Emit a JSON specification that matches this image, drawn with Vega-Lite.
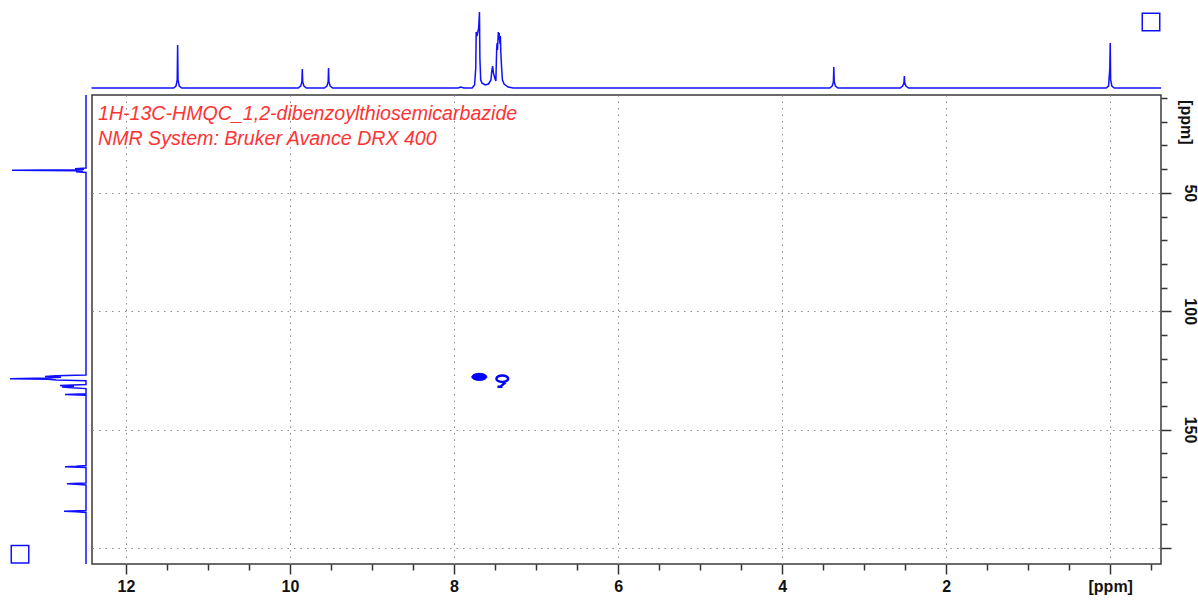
{
  "$schema": "https://vega.github.io/schema/vega-lite/v6.json",
  "background": "white",
  "padding": {"left": 5, "top": 5, "right": 0, "bottom": 0},
  "config": {
    "view": {"stroke": null},
    "axis": {
      "labelFont": "Liberation Sans",
      "labelFontWeight": "bold",
      "labelFontSize": 16,
      "labelColor": "#111111",
      "tickColor": "#333333",
      "tickWidth": 1.5,
      "domain": false,
      "gridColor": "#8c8c8c",
      "gridDash": [1.5, 5],
      "gridWidth": 1,
      "labelOverlap": false,
      "labelFlush": false
    }
  },
  "datasets": {
    "h1": [
      {"ppm": 12.42, "i": 0},
      {"ppm": 11.42, "i": 0}, {"ppm": 11.39, "i": 2}, {"ppm": 11.375, "i": 8}, {"ppm": 11.37, "i": 43}, {"ppm": 11.365, "i": 8}, {"ppm": 11.35, "i": 2}, {"ppm": 11.32, "i": 0},
      {"ppm": 9.9, "i": 0}, {"ppm": 9.87, "i": 2}, {"ppm": 9.855, "i": 6}, {"ppm": 9.85, "i": 19}, {"ppm": 9.845, "i": 6}, {"ppm": 9.83, "i": 2}, {"ppm": 9.8, "i": 0},
      {"ppm": 9.58, "i": 0}, {"ppm": 9.55, "i": 2}, {"ppm": 9.535, "i": 6}, {"ppm": 9.53, "i": 20}, {"ppm": 9.525, "i": 6}, {"ppm": 9.51, "i": 2}, {"ppm": 9.48, "i": 0},
      {"ppm": 7.95, "i": 0}, {"ppm": 7.92, "i": 1}, {"ppm": 7.88, "i": 0}, {"ppm": 7.78, "i": 0}, {"ppm": 7.75, "i": 3}, {"ppm": 7.735, "i": 20}, {"ppm": 7.73, "i": 56}, {"ppm": 7.72, "i": 52}, {"ppm": 7.7, "i": 60}, {"ppm": 7.69, "i": 76}, {"ppm": 7.685, "i": 30}, {"ppm": 7.675, "i": 8}, {"ppm": 7.66, "i": 5}, {"ppm": 7.62, "i": 3}, {"ppm": 7.58, "i": 4}, {"ppm": 7.55, "i": 8}, {"ppm": 7.54, "i": 17}, {"ppm": 7.53, "i": 22}, {"ppm": 7.52, "i": 15}, {"ppm": 7.5, "i": 9}, {"ppm": 7.49, "i": 7}, {"ppm": 7.48, "i": 40}, {"ppm": 7.475, "i": 45}, {"ppm": 7.47, "i": 38}, {"ppm": 7.46, "i": 56}, {"ppm": 7.455, "i": 48}, {"ppm": 7.45, "i": 55}, {"ppm": 7.44, "i": 44}, {"ppm": 7.435, "i": 52}, {"ppm": 7.43, "i": 36}, {"ppm": 7.42, "i": 20}, {"ppm": 7.41, "i": 8}, {"ppm": 7.39, "i": 4}, {"ppm": 7.34, "i": 1}, {"ppm": 7.28, "i": 0},
      {"ppm": 3.42, "i": 0}, {"ppm": 3.39, "i": 2}, {"ppm": 3.375, "i": 6}, {"ppm": 3.37, "i": 21}, {"ppm": 3.365, "i": 6}, {"ppm": 3.35, "i": 2}, {"ppm": 3.32, "i": 0},
      {"ppm": 2.56, "i": 0}, {"ppm": 2.53, "i": 2}, {"ppm": 2.515, "i": 5}, {"ppm": 2.51, "i": 12}, {"ppm": 2.505, "i": 5}, {"ppm": 2.49, "i": 2}, {"ppm": 2.46, "i": 0},
      {"ppm": 0.05, "i": 0}, {"ppm": 0.02, "i": 2}, {"ppm": 0.005, "i": 20}, {"ppm": 0.0, "i": 45}, {"ppm": -0.005, "i": 8}, {"ppm": -0.02, "i": 2}, {"ppm": -0.05, "i": 0},
      {"ppm": -0.62, "i": 0}
    ],
    "c13": [
      {"ppm": 8.67, "i": 0},
      {"ppm": 39.5, "i": 0}, {"ppm": 39.8, "i": 11}, {"ppm": 40.0, "i": 2}, {"ppm": 40.3, "i": 10}, {"ppm": 40.5, "i": 74}, {"ppm": 40.7, "i": 9}, {"ppm": 40.9, "i": 3}, {"ppm": 41.1, "i": 10}, {"ppm": 41.4, "i": 0},
      {"ppm": 127.0, "i": 0}, {"ppm": 127.3, "i": 30}, {"ppm": 127.6, "i": 41}, {"ppm": 127.9, "i": 25}, {"ppm": 128.2, "i": 40}, {"ppm": 128.5, "i": 76}, {"ppm": 128.8, "i": 38}, {"ppm": 129.1, "i": 30}, {"ppm": 129.4, "i": 0},
      {"ppm": 131.0, "i": 0}, {"ppm": 131.4, "i": 26}, {"ppm": 131.7, "i": 12}, {"ppm": 132.0, "i": 24}, {"ppm": 132.3, "i": 14}, {"ppm": 132.7, "i": 0},
      {"ppm": 134.9, "i": 0}, {"ppm": 135.2, "i": 21}, {"ppm": 135.5, "i": 0},
      {"ppm": 165.2, "i": 0}, {"ppm": 165.5, "i": 10}, {"ppm": 165.7, "i": 21}, {"ppm": 166.0, "i": 0},
      {"ppm": 172.6, "i": 0}, {"ppm": 172.9, "i": 19}, {"ppm": 173.1, "i": 10}, {"ppm": 173.4, "i": 0},
      {"ppm": 184.2, "i": 0}, {"ppm": 184.5, "i": 22}, {"ppm": 184.7, "i": 10}, {"ppm": 185.0, "i": 0},
      {"ppm": 206.8, "i": 0}
    ],
    "crossA": [{"h": 7.692, "c": 127.75}],
    "crossB": [{"h": 7.412, "c": 129.44}],
    "iconTop": [{"ppm": -0.497, "i": 66}],
    "iconLeft": [{"ppm": 202.7, "i": 66}]
  },
  "columns": 2,
  "align": "each",
  "bounds": "flush",
  "spacing": {"row": 6, "column": 6},
  "concat": [
    {
      "width": 81,
      "height": 84,
      "data": {"values": [{}]},
      "mark": {"type": "point", "opacity": 0},
      "encoding": {}
    },
    {
      "width": 1069,
      "height": 84,
      "layer": [
        {
          "data": {"name": "h1"},
          "mark": {"type": "line", "color": "#1010ff", "strokeWidth": 1.5},
          "encoding": {
            "x": {"field": "ppm", "type": "quantitative", "axis": null,
                  "scale": {"domain": [-0.619, 12.414], "reverse": true, "nice": false, "zero": false}},
            "y": {"field": "i", "type": "quantitative", "axis": null,
                  "scale": {"domain": [-1, 83], "nice": false, "zero": false}}
          }
        },
        {
          "data": {"name": "iconTop"},
          "mark": {"type": "point", "shape": "square", "size": 306, "filled": false, "color": "#1010ff", "strokeWidth": 1.5, "opacity": 1},
          "encoding": {
            "x": {"field": "ppm", "type": "quantitative"},
            "y": {"field": "i", "type": "quantitative"}
          }
        }
      ]
    },
    {
      "width": 81,
      "height": 469,
      "layer": [
        {
          "data": {"name": "c13"},
          "mark": {"type": "line", "color": "#1010ff", "strokeWidth": 1.5},
          "encoding": {
            "x": {"field": "i", "type": "quantitative", "axis": null,
                  "scale": {"domain": [0, 81], "reverse": true, "nice": false, "zero": false}},
            "y": {"field": "ppm", "type": "quantitative", "axis": null,
                  "scale": {"domain": [8.67, 206.8], "reverse": true, "nice": false, "zero": false}},
            "order": {"field": "ppm", "type": "quantitative"}
          }
        },
        {
          "data": {"name": "iconLeft"},
          "mark": {"type": "point", "shape": "square", "size": 306, "filled": false, "color": "#1010ff", "strokeWidth": 1.5, "opacity": 1},
          "encoding": {
            "x": {"field": "i", "type": "quantitative"},
            "y": {"field": "ppm", "type": "quantitative"}
          }
        }
      ]
    },
    {
      "width": 1069,
      "height": 469,
      "view": {"stroke": "#3a3a3a", "strokeWidth": 1.5},
      "title": {
        "text": ["1H-13C-HMQC_1,2-dibenzoylthiosemicarbazide", "NMR System: Bruker Avance DRX 400"],
        "anchor": "start",
        "orient": "top",
        "frame": "group",
        "offset": -55,
        "dx": 6,
        "font": "Liberation Sans",
        "fontSize": 19.6,
        "fontStyle": "italic",
        "fontWeight": "normal",
        "color": "#ff3333",
        "lineHeight": 25
      },
      "layer": [
        {
          "data": {"name": "crossA"},
          "mark": {"type": "point", "shape": "M-1,0A1,0.47,0,1,0,1,0A1,0.47,0,1,0,-1,0Z", "size": 225, "filled": true, "color": "#0000ff", "stroke": "#0000ff", "strokeWidth": 1, "opacity": 1},
          "encoding": {
            "x": {"field": "h", "type": "quantitative",
                  "scale": {"domain": [-0.619, 12.414], "reverse": true, "nice": false, "zero": false},
                  "axis": {
                    "orient": "bottom",
                    "title": null,
                    "tickCount": 100,
                    "values": [-0.5, 0, 0.5, 1, 1.5, 2, 2.5, 3, 3.5, 4, 4.5, 5, 5.5, 6, 6.5, 7, 7.5, 8, 8.5, 9, 9.5, 10, 10.5, 11, 11.5, 12],
                    "labelExpr": "datum.value == 0 ? '[ppm]' : (datum.value % 2 == 0 ? format(datum.value, 'd') : '')",
                    "tickSize": {"condition": {"test": "datum.value % 2 == 0", "value": 10}, "value": 6},
                    "labelPadding": 4,
                    "grid": true,
                    "gridOpacity": {"condition": {"test": "datum.value % 2 == 0", "value": 1}, "value": 0}
                  }},
            "y": {"field": "c", "type": "quantitative",
                  "scale": {"domain": [8.67, 206.8], "reverse": true, "nice": false, "zero": false},
                  "axis": {
                    "orient": "right",
                    "title": null,
                    "tickCount": 100,
                    "values": [10, 20, 30, 40, 50, 60, 70, 80, 90, 100, 110, 120, 130, 140, 150, 160, 170, 180, 190, 200],
                    "labelAngle": 90,
                    "labelExpr": "datum.value == 20 ? '[ppm]' : ((datum.value % 50 == 0 && datum.value < 200) ? format(datum.value, 'd') : '')",
                    "tickSize": {"condition": {"test": "datum.value % 50 == 0", "value": 10}, "value": 6},
                    "labelPadding": 10,
                    "grid": true,
                    "gridOpacity": {"condition": {"test": "datum.value % 50 == 0", "value": 1}, "value": 0}
                  }}
          }
        },
        {
          "data": {"name": "crossB"},
          "mark": {"type": "point", "shape": "M-0.83,-0.31A0.83,0.47,0,1,0,0.83,-0.31A0.83,0.47,0,1,0,-0.83,-0.31M0.5,0.17L-0.21,0.79M-0.69,0.84L0.03,0.84", "size": 196, "filled": false, "color": "#0000ff", "strokeWidth": 2.5, "opacity": 1},
          "encoding": {
            "x": {"field": "h", "type": "quantitative"},
            "y": {"field": "c", "type": "quantitative"}
          }
        }
      ]
    }
  ]
}
